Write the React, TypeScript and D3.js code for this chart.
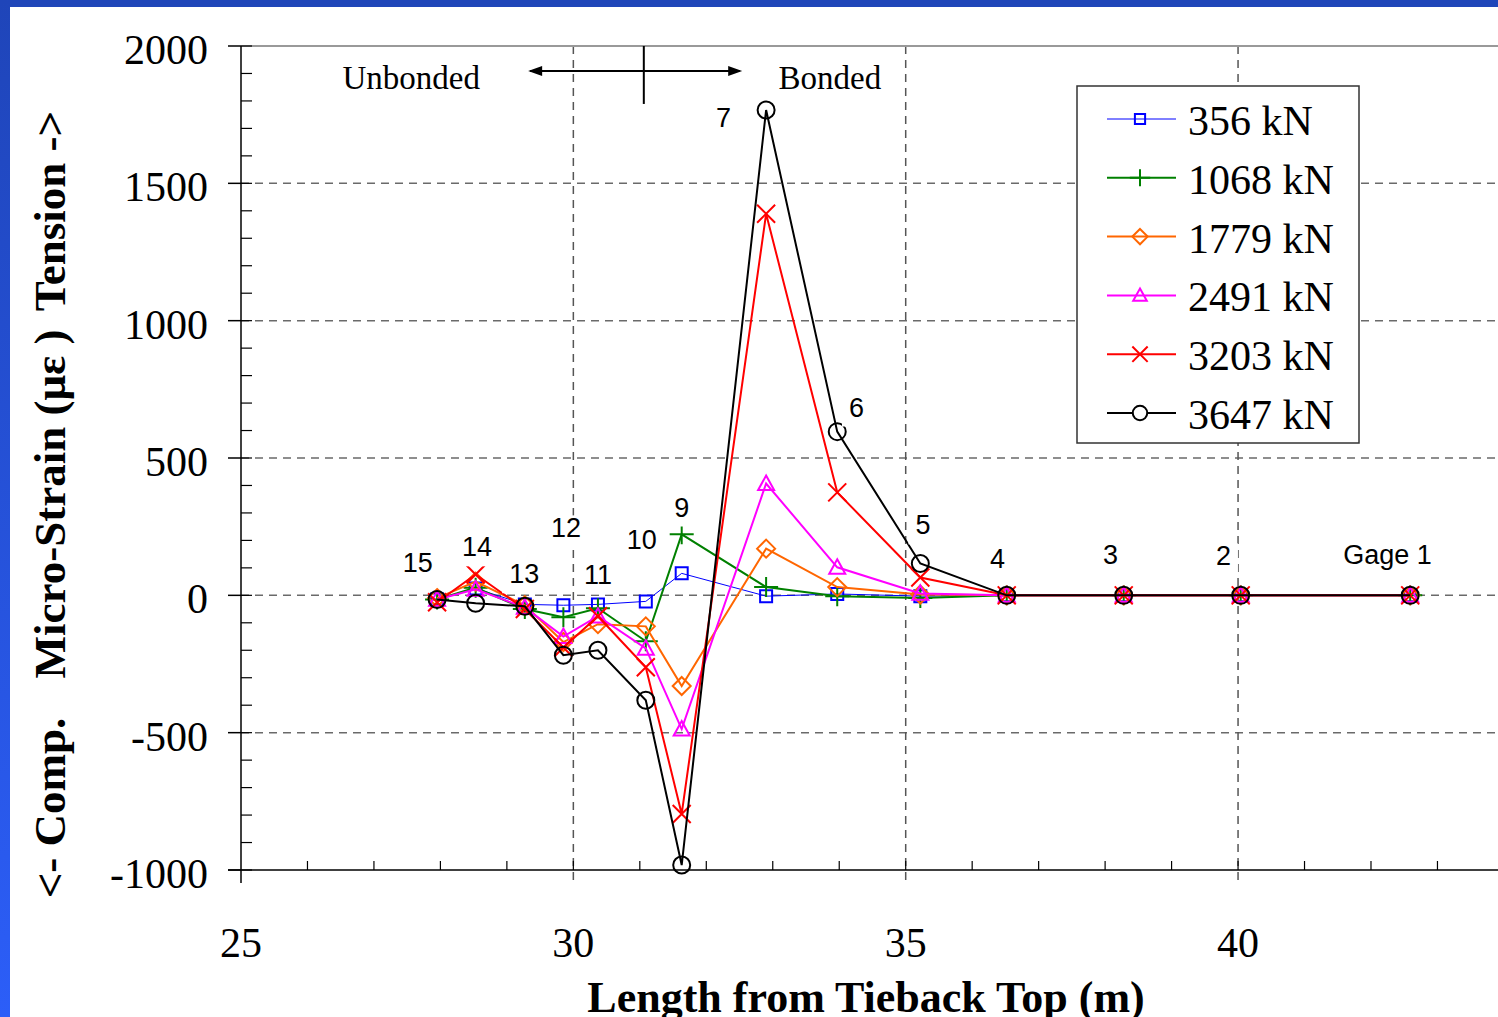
import React, { useEffect, useRef } from 'react';
import * as d3 from 'd3';

// gage positions along the tieback (m), gage 15 .. gage 1
const gageX = [27.95, 28.53, 29.27, 29.85, 30.37, 31.09, 31.63, 32.9, 33.97, 35.22, 36.52, 38.28, 40.04, 42.59];

// micro-strain per load step
const s356 = [-15, 25, -33, -36, -33, -22, 80, -3, 5, -3, 0, 0, 0, 0];
const s1068 = [-15, 28, -50, -80, -47, -167, 222, 30, -3, -10, 0, 0, 0, 0];
const s1779 = [-10, 50, -36, -170, -105, -113, -330, 170, 30, 3, 0, 0, 0, 0];
const s2491 = [-15, 22, -44, -150, -76, -193, -487, 407, 102, 7, 0, 0, 0, 0];
const s3203 = [-25, 76, -50, -190, -76, -262, -796, 1389, 375, 65, 0, 0, 0, 0];
const s3647 = [-15, -29, -40, -218, -200, -382, -982, 1767, 596, 116, 0, 0, 0, 0];

const seriesNames = ['356 kN', '1068 kN', '1779 kN', '2491 kN', '3203 kN', '3647 kN'];
const seriesValues = [s356, s1068, s1779, s2491, s3203, s3647];
const seriesColors = ['#0000ff', '#008000', '#ff6600', '#ff00ff', '#ff0000', '#000000'];
const seriesMarkers = ['square', 'plus', 'diamond', 'triangle', 'x', 'circle'];
const seriesWidths = [1, 2, 2, 2, 2, 2];

const yTicks = [-1000, -500, 0, 500, 1000, 1500, 2000];
const xTicks = [25, 30, 35, 40];

// gage annotations (data units)
const gageLabels = ['15', '14', '13', '12', '11', '10', '9', '7', '6', '5', '4', '3', '2', 'Gage 1'];
const gageLabelX = [27.66, 28.55, 29.26, 29.89, 30.37, 31.03, 31.63, 32.26, 34.26, 35.26, 36.38, 38.08, 39.78, 42.25];
const gageLabelY = [84, 142, 44, 211, 40, 167, 287, 1705, 651, 222, 98, 113, 109, 113];

const serif = "'Liberation Serif', 'Times New Roman', Times, serif";
const sans = "'Liberation Sans', Arial, Helvetica, sans-serif";

function markerPath(type: string, s: number): string {
  const h = s / 2;
  switch (type) {
    case 'square':
      return `M${-h},${-h}H${h}V${h}H${-h}Z`;
    case 'plus':
      return `M${-h * 1.2},0H${h * 1.2}M0,${-h}V${h}`;
    case 'diamond':
      return `M0,${-h}L${h},0L0,${h}L${-h},0Z`;
    case 'triangle':
      return `M0,${-h}L${h},${h * 0.8}L${-h},${h * 0.8}Z`;
    case 'x':
      return `M${-h},${-h}L${h},${h}M${-h},${h}L${h},${-h}`;
    default:
      return d3.arc()({ innerRadius: 0, outerRadius: h, startAngle: 0, endAngle: Math.PI * 2 }) || '';
  }
}

const markerSizes: Record<string, number> = {
  square: 12, plus: 20, diamond: 18, triangle: 16, x: 18, circle: 17,
};

const App: React.FC = () => {
  const svgRef = useRef<SVGSVGElement>(null);
  const width = 1498;
  const height = 1017;

  useEffect(() => {
    const svg = d3.select(svgRef.current);
    svg.selectAll('*').remove();

    const left = 241, top = 46, bottom = 870;
    const x = d3.scaleLinear().domain([25, 45]).range([left, left + 20 * 66.47]);
    const y = d3.scaleLinear().domain([-1000, 2000]).range([bottom, top]);

    // background + blue frame
    const defs = svg.append('defs');
    const grad = defs.append('linearGradient').attr('id', 'frameGrad')
      .attr('x1', 0).attr('y1', 0).attr('x2', 0).attr('y2', 1);
    grad.append('stop').attr('offset', '0%').attr('stop-color', '#1f45b9');
    grad.append('stop').attr('offset', '100%').attr('stop-color', '#2c5ef8');

    svg.append('rect').attr('width', width).attr('height', height).attr('fill', '#fff');
    svg.append('rect').attr('x', 0).attr('y', 0).attr('width', width).attr('height', 7).attr('fill', '#1f46b9');
    svg.append('rect').attr('x', 0).attr('y', 0).attr('width', 10).attr('height', height).attr('fill', 'url(#frameGrad)');

    const g = svg.append('g');

    // grid lines
    g.selectAll('.hgrid')
      .data(yTicks.filter(v => v > -1000 && v < 2000))
      .enter()
      .append('line')
      .attr('x1', left).attr('x2', width)
      .attr('y1', d => y(d)).attr('y2', d => y(d))
      .attr('stroke', '#6a6a6a').attr('stroke-width', 1.5)
      .attr('stroke-dasharray', '8,6');

    g.selectAll('.vgrid')
      .data(xTicks.filter(v => v > 25))
      .enter()
      .append('line')
      .attr('x1', d => x(d)).attr('x2', d => x(d))
      .attr('y1', top).attr('y2', bottom + 13)
      .attr('stroke', '#555').attr('stroke-width', 1.5)
      .attr('stroke-dasharray', '8,6');

    // top border
    g.append('line').attr('x1', left).attr('x2', width).attr('y1', top).attr('y2', top)
      .attr('stroke', '#999').attr('stroke-width', 2);

    // axes lines
    g.append('line').attr('x1', left).attr('x2', left).attr('y1', top).attr('y2', bottom + 13)
      .attr('stroke', '#000').attr('stroke-width', 1.5);
    g.append('line').attr('x1', left - 13).attr('x2', width).attr('y1', bottom).attr('y2', bottom)
      .attr('stroke', '#000').attr('stroke-width', 1.5);

    // y ticks
    g.selectAll('.ymajor')
      .data(yTicks)
      .enter()
      .append('line')
      .attr('x1', left - 13).attr('x2', left)
      .attr('y1', d => y(d)).attr('y2', d => y(d))
      .attr('stroke', '#000').attr('stroke-width', 1.5);
    g.selectAll('.yminor')
      .data(d3.range(-1000, 2001, 100))
      .enter()
      .append('line')
      .attr('x1', left).attr('x2', left + 11)
      .attr('y1', d => y(d)).attr('y2', d => y(d))
      .attr('stroke', '#000').attr('stroke-width', 1.2);
    g.selectAll('.ylabel')
      .data(yTicks)
      .enter()
      .append('text')
      .attr('x', 208)
      .attr('y', d => y(d) + 18)
      .attr('text-anchor', 'end')
      .attr('font-family', serif)
      .attr('font-size', '42px')
      .attr('fill', '#000')
      .text(d => d);

    // x ticks
    g.selectAll('.xminor')
      .data(d3.range(26, 45, 1))
      .enter()
      .append('line')
      .attr('x1', d => x(d)).attr('x2', d => x(d))
      .attr('y1', bottom - 9).attr('y2', bottom)
      .attr('stroke', '#000').attr('stroke-width', 1.2);
    g.selectAll('.xlabel')
      .data(xTicks)
      .enter()
      .append('text')
      .attr('x', d => x(d))
      .attr('y', 957)
      .attr('text-anchor', 'middle')
      .attr('font-family', serif)
      .attr('font-size', '42px')
      .attr('fill', '#000')
      .text(d => d);

    // axis titles
    g.append('text')
      .attr('x', 866).attr('y', 1012)
      .attr('text-anchor', 'middle')
      .attr('font-family', serif).attr('font-weight', 'bold').attr('font-size', '44px')
      .text('Length from Tieback Top (m)');

    const yTitle = [
      { t: 'Tension ->', c: 211 },
      { t: 'Micro-Strain (\u03bc\u03b5 )', c: 504 },
      { t: '<- Comp.', c: 808 },
    ];
    g.selectAll('.ytitle')
      .data(yTitle)
      .enter()
      .append('text')
      .attr('transform', d => `translate(65,${d.c}) rotate(-90)`)
      .attr('text-anchor', 'middle')
      .attr('font-family', serif).attr('font-weight', 'bold').attr('font-size', '45px')
      .style('white-space', 'pre')
      .text(d => d.t);

    // unbonded / bonded annotation
    const arrowY = y(1909);
    g.append('line').attr('x1', x(29.35)).attr('x2', x(32.5)).attr('y1', arrowY).attr('y2', arrowY)
      .attr('stroke', '#000').attr('stroke-width', 2);
    g.append('path')
      .attr('d', `M${x(29.32)},${arrowY}l14,-5v10Z M${x(32.54)},${arrowY}l-14,-5v10Z`)
      .attr('fill', '#000');
    g.append('line').attr('x1', x(31.06)).attr('x2', x(31.06)).attr('y1', top).attr('y2', y(1789))
      .attr('stroke', '#000').attr('stroke-width', 2);
    g.append('text')
      .attr('x', x(27.56)).attr('y', y(1845))
      .attr('text-anchor', 'middle')
      .attr('font-family', serif).attr('font-size', '33px')
      .text('Unbonded');
    g.append('text')
      .attr('x', x(33.86)).attr('y', y(1845))
      .attr('text-anchor', 'middle')
      .attr('font-family', serif).attr('font-size', '33px')
      .text('Bonded');

    // series lines
    const line = d3.line<number>()
      .x((_, i) => x(gageX[i]))
      .y(d => y(d));

    seriesValues.forEach((vals, si) => {
      const sg = g.append('g');
      sg.append('path')
        .attr('d', line(vals) || '')
        .attr('fill', 'none')
        .attr('stroke', seriesColors[si])
        .attr('stroke-width', seriesWidths[si])
        .attr('stroke-linejoin', 'miter');
      sg.selectAll('.pt')
        .data(vals)
        .enter()
        .append('path')
        .attr('transform', (d, i) => `translate(${x(gageX[i])},${y(d)})`)
        .attr('d', markerPath(seriesMarkers[si], markerSizes[seriesMarkers[si]]))
        .attr('fill', 'none')
        .attr('stroke', seriesColors[si])
        .attr('stroke-width', 2);
    });

    // gage labels with white boxes
    gageLabels.forEach((lab, i) => {
      const lg = g.append('g');
      const bg = lg.append('rect').attr('fill', '#fff');
      const t = lg.append('text')
        .attr('x', x(gageLabelX[i]))
        .attr('y', y(gageLabelY[i]))
        .attr('text-anchor', 'middle')
        .attr('font-family', sans)
        .attr('font-size', '27px')
        .attr('fill', '#000')
        .text(lab);
      const bb = (t.node() as SVGTextElement).getBBox();
      bg.attr('x', bb.x - 7).attr('y', bb.y + 2).attr('width', bb.width + 14).attr('height', bb.height + 2);
    });

    // legend
    const lx = 1077, ly = 86;
    const legend = g.append('g');
    legend.append('rect')
      .attr('x', lx).attr('y', ly).attr('width', 282).attr('height', 357)
      .attr('fill', '#fff').attr('stroke', '#333').attr('stroke-width', 1.5);
    seriesNames.forEach((name, si) => {
      const rowY = 119 + si * 58.8;
      legend.append('line')
        .attr('x1', 1107).attr('x2', 1176).attr('y1', rowY).attr('y2', rowY)
        .attr('stroke', seriesColors[si]).attr('stroke-width', seriesWidths[si]);
      legend.append('path')
        .attr('transform', `translate(1140,${rowY})`)
        .attr('d', markerPath(seriesMarkers[si], markerSizes[seriesMarkers[si]] * 0.85))
        .attr('fill', seriesMarkers[si] === 'circle' ? '#fff' : 'none')
        .attr('stroke', seriesColors[si]).attr('stroke-width', 2);
      legend.append('text')
        .attr('x', 1188).attr('y', rowY + 16)
        .attr('font-family', serif).attr('font-size', '42px')
        .attr('fill', '#000')
        .text(name);
    });
  }, []);

  return (
    <svg
      ref={svgRef}
      width={width}
      height={height}
      style={{ position: 'absolute', left: 0, top: 0, display: 'block' }}
    ></svg>
  );
};

export default App;
